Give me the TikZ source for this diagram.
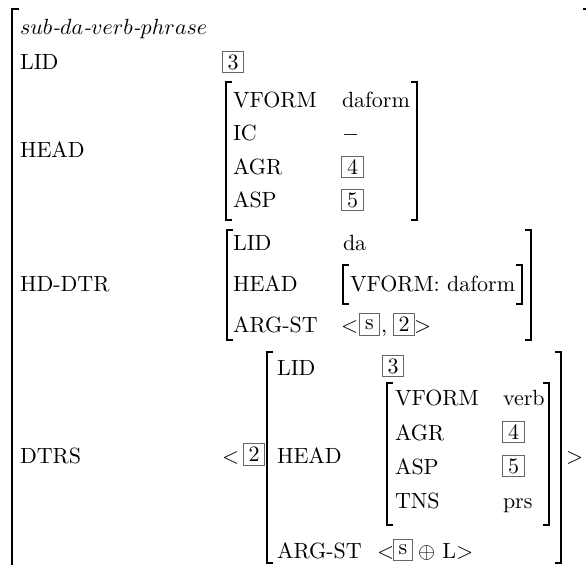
\documentclass[tikz,border=0pt]{standalone}
\usepackage{fontspec}
\tikzset{
  x=0.4545pt, y=-0.4545pt,
  txt/.style={anchor=base west, inner sep=0pt, outer sep=0pt},
  tagbox/.style={draw=black!60, line width=0.45pt, inner sep=0pt, minimum width=9.6pt, minimum height=9.6pt},
  stagbox/.style={tagbox, minimum width=8.8pt},
  brk/.style={line width=0.9pt, line cap=butt},
}
\newcommand\lbrk[3]{\draw[brk] ({#1+6},#2) -- (#1,#2) -- (#1,#3) -- ({#1+6},#3);}
\newcommand\rbrk[3]{\draw[brk] ({#1-6},#2) -- (#1,#2) -- (#1,#3) -- ({#1-6},#3);}
\begin{document}
\begin{tikzpicture}
\useasboundingbox (0,0) rectangle (586,565);
\clip (0,0) rectangle (586,565);
% outer AVM brackets (cut off by the frame)
\draw[brk] (19,9) -- (12,9) -- (12,600);
\draw[brk] (583,9) -- (590,9) -- (590,600);
\node[txt] (type) at (20,35) {$sub$\textit{-}$da$\textit{-}$verb$\textit{-}$phrase$};
% LID
\node[txt] (lid) at (20,70) {LID};
\node[tagbox] (t3a) at (233,62) {3};
% HEAD
\node[txt] (head) at (20,158) {HEAD};
\lbrk{226}{82}{220}
\rbrk{417}{82}{220}
\node[txt] (hvf) at (233,108) {VFORM};
\node[txt] (hvfv) at (342,108) {daform};
\node[txt] (hic) at (233,141) {IC};
\node[txt] (hicv) at (342,141) {$-$};
\node[txt] (hagr) at (233,175) {AGR};
\node[tagbox] (t4a) at (352.5,167) {4};
\node[txt] (hasp) at (233,208) {ASP};
\node[tagbox] (t5a) at (352.5,200) {5};
% HD-DTR
\node[txt] (hd) at (20,292) {HD-DTR};
\lbrk{227}{230}{340}
\rbrk{531}{230}{340}
\node[txt] (dlid) at (233,250) {LID};
\node[txt] (dlidv) at (343,250) {da};
\node[txt] (dhead) at (233,291) {HEAD};
\lbrk{343}{265}{304}
\rbrk{522}{265}{304}
\node[txt] (dheadv) at (350,291) {VFORM: daform};
\node[txt] (darg) at (233,332) {ARG-ST};
\node[txt] (dlt) at (341,332) {$<$};
\node[stagbox] (ts1) at (369.5,324.5) {s};
\node[txt] (dcomma) at (381,332) {,};
\node[tagbox] (t2a) at (404,324.5) {2};
\node[txt] (dgt) at (414,332) {$>$};
% DTRS
\node[txt] (dtrs) at (20,463) {DTRS};
\node[txt] (llt) at (222,463) {$<$};
\node[tagbox] (t2b) at (254,454.5) {2};
\lbrk{267}{352}{563}
\rbrk{561}{352}{563}
\node[txt] (glt) at (566,463) {$>$};
\node[txt] (elid) at (277,375) {LID};
\node[tagbox] (t3b) at (393,366) {3};
\node[txt] (ehead) at (277,463) {HEAD};
\lbrk{387}{383}{525}
\rbrk{549}{383}{525}
\node[txt] (evf) at (395,405) {VFORM};
\node[txt] (evfv) at (503,405) {verb};
\node[txt] (eagr) at (395,440) {AGR};
\node[tagbox] (t4b) at (513.5,432) {4};
\node[txt] (easp) at (395,474) {ASP};
\node[tagbox] (t5b) at (513.5,466) {5};
\node[txt] (etns) at (395,508) {TNS};
\node[txt] (etnsv) at (503,508) {prs};
\node[txt] (earg) at (277,558) {ARG-ST};
\node[txt] (elt) at (377,558) {$<$};
\node[stagbox] (ts2) at (403,550) {s};
\node[txt] (eplus) at (418,558) {$\oplus$ L$>$};
\end{tikzpicture}
\end{document}
